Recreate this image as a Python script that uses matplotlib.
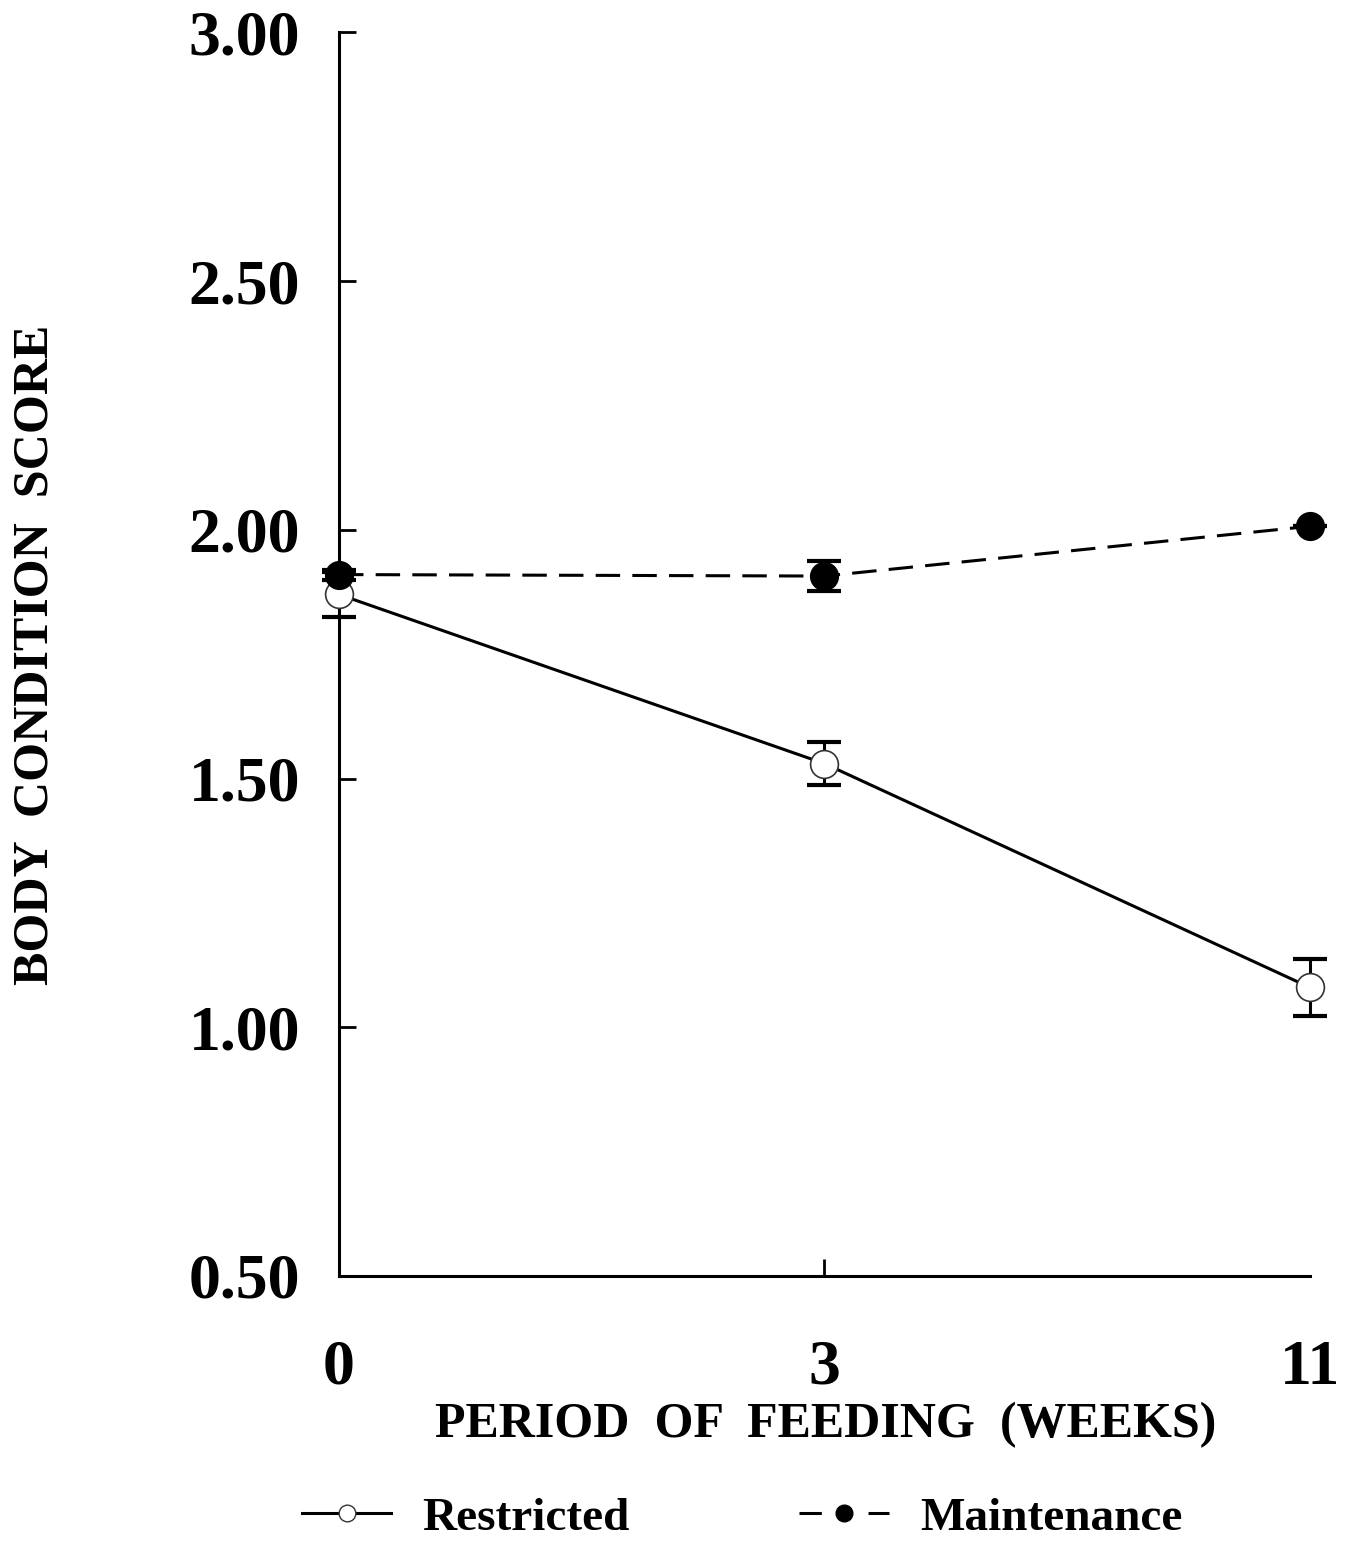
import numpy as np
import matplotlib.pyplot as plt
from matplotlib.lines import Line2D

plt.rcParams['font.family'] = ['Liberation Serif', 'DejaVu Serif']
plt.rcParams['font.weight'] = 'bold'

weeks = ['0', '3', '11']
restricted = [1.87, 1.53, 1.08]
restricted_se = [0.045, 0.044, 0.058]
maintenance = [1.91, 1.907, 2.007]
maintenance_se = [0.01, 0.03, 0.0]
yticks = [0.5, 1.0, 1.5, 2.0, 2.5, 3.0]
ytick_labels = ['0.50', '1.00', '1.50', '2.00', '2.50', '3.00']

fig = plt.figure(figsize=(13.49, 15.41), dpi=100)
ax = fig.add_axes([0.2513, 0.172, 0.7197, 0.807])

x = np.arange(len(weeks))

# error bars first, markers and lines on top
ax.errorbar(x, restricted, yerr=restricted_se, fmt='none', ecolor='black',
            elinewidth=2.2, capsize=12, capthick=3, zorder=2)
ax.errorbar(x, maintenance, yerr=maintenance_se, fmt='none', ecolor='black',
            elinewidth=2.2, capsize=12, capthick=3, zorder=2)
ax.plot(x, restricted, color='black', lw=2.2, marker='o', ms=20,
        mfc='white', mec='#333333', mew=1.2, zorder=3, clip_on=False)
ax.plot(x, maintenance, color='black', lw=2.2, dashes=[8, 4], marker='o',
        ms=20, mfc='black', mec='black', zorder=4, clip_on=False)

ax.set_xlim(0, 2)
ax.set_ylim(0.5, 3.0)
ax.set_xticks(x)
ax.set_xticklabels(weeks, fontsize=46, fontweight='bold')
ax.set_yticks(yticks)
ax.set_yticklabels(ytick_labels, fontsize=46, fontweight='bold')

ax.tick_params(axis='y', direction='in', length=12, width=2, pad=28)
ax.tick_params(axis='x', direction='in', length=12, width=2, pad=46)
ax.xaxis.get_major_ticks()[2].tick1line.set_visible(False)

ax.spines['top'].set_visible(False)
ax.spines['right'].set_visible(False)
ax.spines['left'].set_linewidth(2.2)
ax.spines['bottom'].set_linewidth(2.2)
for c in ax.get_children():
    if isinstance(c, Line2D):
        c.set_clip_on(False)
for coll in ax.collections:
    coll.set_clip_on(False)

fig.text(0.612, 1 - 1425 / 1541, 'PERIOD  OF  FEEDING  (WEEKS)',
         fontsize=36, fontweight='bold', ha='center', va='center')
fig.text(0.026, 1 - 655 / 1541, 'BODY  CONDITION  SCORE',
         fontsize=36, fontweight='bold', ha='center', va='center',
         rotation=90)

handles = [
    Line2D([], [], color='black', lw=2.2, marker='o', ms=12,
           mfc='white', mec='#333333', mew=1.0),
    Line2D([], [], color='black', lw=2.2, dashes=[7.3, 15.3], marker='o',
           ms=12, mfc='black', mec='black'),
]
fig.legend(handles, ['Restricted', 'Maintenance'], loc='center',
           bbox_to_anchor=(0.55, 1 - 1518 / 1541), ncol=2, frameon=False,
           prop={'size': 34, 'weight': 'bold'}, handlelength=1.9,
           columnspacing=3.6, handletextpad=0.65)

fig.savefig('out.png', dpi=100)
